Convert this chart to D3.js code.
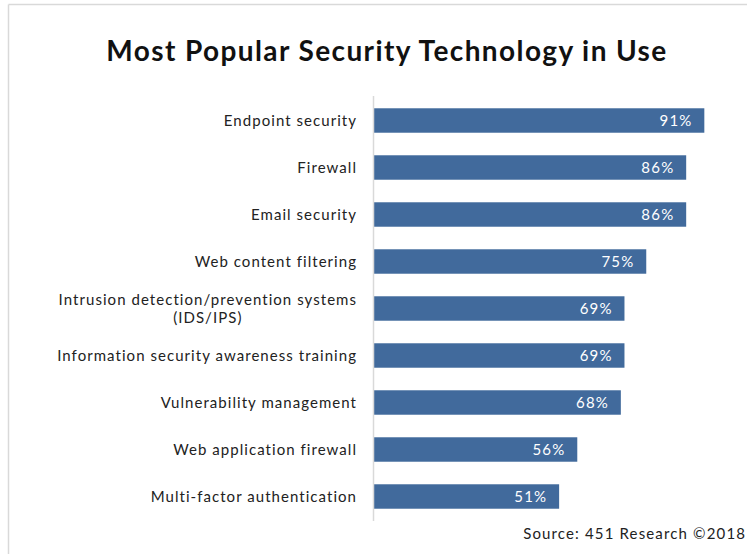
<!DOCTYPE html>
<html>
<head>
<meta charset="utf-8">
<script src="https://cdn.jsdelivr.net/npm/d3@7/dist/d3.min.js"></script>
<style>
  html, body { margin: 0; padding: 0; background: #fff; }
  svg { display: block; }
</style>
</head>
<body>
<svg id="chart" width="747" height="554"></svg>
<script>
// Survey results: share of organisations using each security technology
const categories = [
  ["Endpoint security"],
  ["Firewall"],
  ["Email security"],
  ["Web content filtering"],
  ["Intrusion detection/prevention systems", "(IDS/IPS)"],
  ["Information security awareness training"],
  ["Vulnerability management"],
  ["Web application firewall"],
  ["Multi-factor authentication"]
];
const values = [91, 86, 86, 75, 69, 69, 68, 56, 51];
const valueLabels = ["91%", "86%", "86%", "75%", "69%", "69%", "68%", "56%", "51%"];
const titleText = "Most Popular Security Technology in Use";
const sourceText = "Source: 451 Research \u00A92018";

const svg = d3.select("#chart");
const font = "Lato, 'Open Sans', sans-serif";
const ls = 1.05; // letter spacing for body text

// outer frame (top and left edges)
svg.append("line").attr("x1", 8.5).attr("x2", 747).attr("y1", 4.5).attr("y2", 4.5)
  .attr("stroke", "#d9d9d9").attr("stroke-width", 1.5);
svg.append("line").attr("x1", 8.5).attr("x2", 8.5).attr("y1", 4.5).attr("y2", 554)
  .attr("stroke", "#d9d9d9").attr("stroke-width", 1.5);

svg.append("text")
  .attr("x", 387).attr("y", 61)
  .attr("text-anchor", "middle")
  .attr("font-family", font).attr("font-weight", "bold")
  .attr("font-size", 28).attr("letter-spacing", 1.4).attr("fill", "#111")
  .text(titleText);

const idx = d3.range(values.length);
const y = d3.scaleBand().domain(idx).range([97, 520])
  .paddingInner(0.48).paddingOuter(0.24);
const x = d3.scaleLinear().domain([0, 100]).range([374, 737]);

// bars
svg.append("g").selectAll("rect").data(idx).join("rect")
  .attr("x", x(0))
  .attr("y", i => y(i))
  .attr("width", i => x(values[i]) - x(0))
  .attr("height", y.bandwidth())
  .attr("fill", "#416a9c");

// category axis line
svg.append("line")
  .attr("x1", 373.5).attr("x2", 373.5)
  .attr("y1", 96).attr("y2", 521)
  .attr("stroke", "#d9d9d9").attr("stroke-width", 1.5);

// category labels (multi-line where needed)
const labels = svg.append("g").selectAll("text").data(idx).join("text")
  .attr("font-family", font).attr("font-size", 15).attr("letter-spacing", ls)
  .attr("fill", "#222")
  .attr("text-anchor", "middle");
labels.each(function(i) {
  const lines = categories[i];
  const t = d3.select(this);
  const cy = y(i) + y.bandwidth() / 2;
  const lh = 18;
  lines.forEach((ln, k) => {
    t.append("tspan").attr("y", cy + (k - (lines.length - 1) / 2) * lh).attr("dy", "0.35em").text(ln);
  });
  // right-align the block at the axis, lines centred within it
  let w = 0;
  t.selectAll("tspan").each(function() { w = Math.max(w, this.getComputedTextLength()); });
  t.selectAll("tspan").attr("x", 356 + ls - w / 2);
});

// value labels inside bar ends
svg.append("g").selectAll("text").data(idx).join("text")
  .attr("x", i => x(values[i]) - 13 + 1.2)
  .attr("y", i => y(i) + y.bandwidth() / 2)
  .attr("dy", "0.35em")
  .attr("text-anchor", "end")
  .attr("font-family", font).attr("font-size", 15).attr("letter-spacing", 1.2)
  .attr("fill", "#fff")
  .text(i => valueLabels[i]);

svg.append("text")
  .attr("x", 745 + 1.15).attr("y", 539)
  .attr("text-anchor", "end")
  .attr("font-family", font).attr("font-size", 15).attr("letter-spacing", 1.15)
  .attr("fill", "#222")
  .text(sourceText);
</script>
</body>
</html>
